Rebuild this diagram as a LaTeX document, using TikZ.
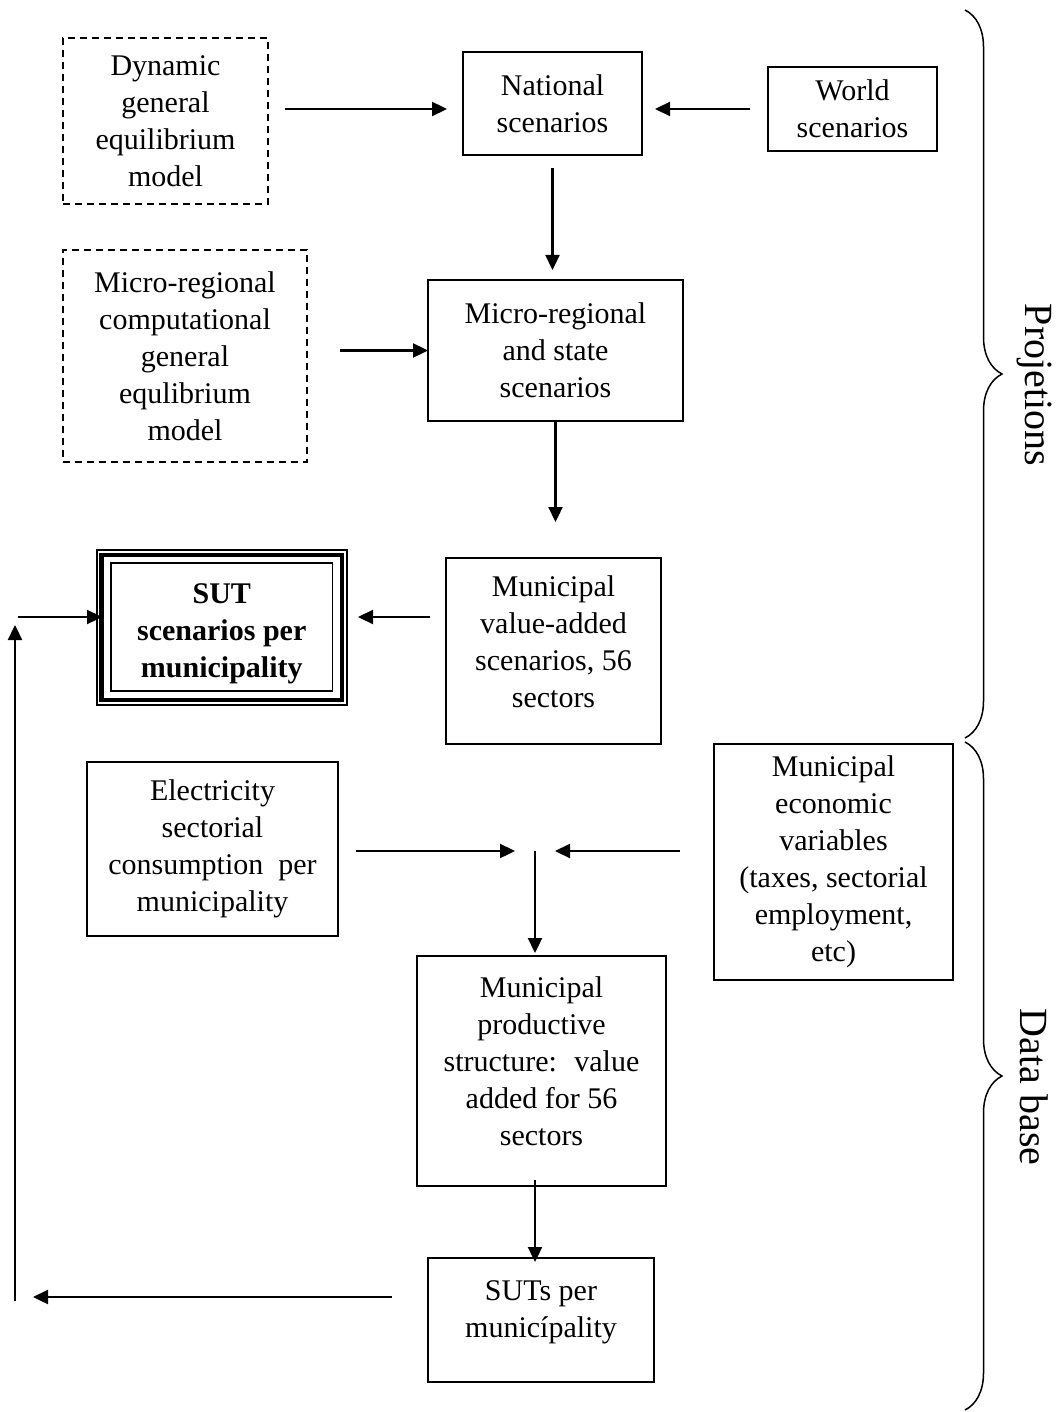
\documentclass[tikz,border=0pt]{standalone}
\usepackage{fontspec}
\setmainfont{Liberation Serif}
\usetikzlibrary{arrows.meta,decorations.pathreplacing}

\tikzset{
  box/.style={draw, line width=1.6pt, inner sep=0pt, outer sep=0pt, align=center,
    font=\fontsize{30}{37}\selectfont},
  dbox/.style={box, dash pattern=on 7pt off 5pt},
  wh/.style 2 args={minimum width=#1pt, minimum height=#2pt},
  arr/.style={-{Triangle[length=15pt,width=14pt]}, line width=2.3pt},
  brc/.style={decorate, decoration={brace, amplitude=37pt}, line width=1.5pt},
  side/.style={rotate=-90, font=\fontsize{40}{48}\selectfont}
}

\begin{document}
\begin{tikzpicture}[x=1pt, y=-1pt]
\useasboundingbox (0,0) rectangle (1055,1412);

% projections
\node[dbox, wh={205}{166}] (dyn) at (165.5,121) {Dynamic\\general\\equilibrium\\model};
\node[box, wh={179}{103}] (nat) at (552.5,103.5) {National\\scenarios};
\node[box, wh={169}{84}] (world) at (852.5,109) {World\\scenarios};
\node[dbox, wh={244}{212}] (mrcge) at (185,356) {Micro-regional\\computational\\general\\equlibrium\\model};
\node[box, wh={255}{141}] (mrstate) at (555.5,350.5) {Micro-regional\\and state\\scenarios};
\node[box, wh={221.5}{128}, font=\fontsize{30}{37}\selectfont\bfseries] (sut) at (221.75,627) {\strut\\[-30pt]SUT\\scenarios per\\municipality};
\node[box, wh={215}{186}] (mva) at (553.5,651) {Municipal\\value-added\\scenarios, 56\\sectors\\[-30pt]\strut};

% triple border of the SUT box
\draw[line width=4.5pt] ([shift={(-9.5,-8)}]sut.north west) rectangle ([shift={(9.5,9)}]sut.south east);
\draw[line width=1.5pt] ([shift={(-14,-13)}]sut.north west) rectangle ([shift={(14.5,14)}]sut.south east);

% data base
\node[box, wh={251}{174}] (elec) at (212.5,849) {Electricity\\sectorial\\consumption~ per\\municipality};
\node[box, wh={239}{236}] (econ) at (833.5,862) {Municipal\\economic\\variables\\(taxes, sectorial\\employment,\\etc)};
\node[box, wh={249}{230}] (prod) at (541.5,1071) {Municipal\\productive\\structure:~ value\\added for 56\\sectors\\[-28pt]\strut};
\node[box, wh={226}{124}] (suts) at (541,1320) {SUTs per\\municípality\\[-26pt]\strut};

\coordinate (junc) at (535,851);
\coordinate (fbin) at (18,617);
\coordinate (fbtop) at (15,625);
\coordinate (fbbot) at (15,1301);
\coordinate (fbend) at (33,1297);

% connectors
\draw[arr, shorten <=17pt, shorten >=16pt] (dyn.east |- world.west) -- (nat.west |- world.west);
\draw[arr, shorten <=18pt, shorten >=13pt] (world.west) -- (world.west -| nat.east);
\draw[arr, shorten <=13pt, shorten >=10pt] (nat.south) -- (nat.south |- mrstate.north);
\draw[arr, shorten <=33pt] (mrcge.east |- mrstate.west) -- (mrstate.west);
\draw[arr, shorten >=36pt] (mrstate.south) -- (mrstate.south |- mva.north);
\draw[arr, shorten <=16pt, shorten >=25.5pt] (mva.west |- fbin) -- (sut.east |- fbin);
\draw[arr, shorten >=9pt] (fbin) -- (fbin -| sut.west);
\draw[arr] (fbbot) -- (fbtop);
\draw[arr, shorten <=36pt] (suts.west |- fbend) -- (fbend);

\draw[arr, shorten <=18pt, shorten >=20pt] (elec.east |- junc) -- (junc);
\draw[arr, shorten <=34pt, shorten >=20pt] (econ.west |- junc) -- (junc);
\draw[arr, shorten >=3pt] (junc) -- (junc |- prod.north);
\draw[arr, shorten <=-6pt, shorten >=-4pt] (junc |- prod.south) -- (junc |- suts.north);

% braces
\draw[brc] (965,10) -- (965,738);
\draw[brc] (965,742) -- (965,1410);
\node[side] (proj) at (1034,385) {Projetions};
\node[side] (dbase) at (1034,1087) {Data base};
\end{tikzpicture}
\end{document}
